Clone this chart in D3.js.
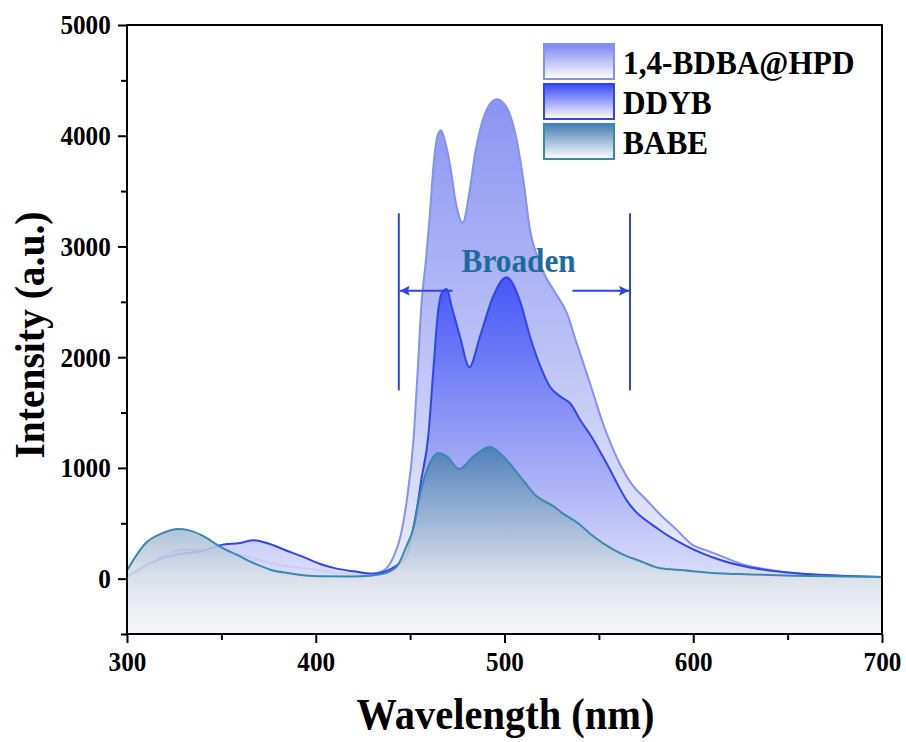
<!DOCTYPE html>
<html>
<head>
<meta charset="utf-8">
<script src="https://cdn.jsdelivr.net/npm/d3@7"></script>
<style>
  body { margin: 0; background: #fff; }
  text { font-family: "Liberation Serif", "Times New Roman", serif; font-weight: bold; }
</style>
</head>
<body>
<div id="chart"></div>
<script>
// Spectra (wavelength in nm, intensity in a.u.)
var wlHPD = [300, 310, 320, 330, 340, 350, 360, 370, 380, 390, 400, 410, 420, 430, 436, 441, 445, 448, 452, 454, 456, 458.5, 460.5, 462.5, 464.5, 466.4, 468.5, 471, 474.5, 477.8, 481.5, 484.5, 487, 492, 496, 501, 506.5, 510, 513.5, 518, 522, 527, 533, 538, 545, 552, 561, 568, 575, 583, 591, 600, 607, 614, 627, 640, 653, 670, 700];
var intHPD = [20, 110, 210, 262, 255, 240, 215, 170, 125, 100, 80, 55, 40, 45, 75, 190, 390, 680, 1300, 1880, 2480, 2900, 3300, 3750, 4000, 4050, 3950, 3750, 3370, 3215, 3500, 3850, 4050, 4280, 4330, 4260, 3960, 3600, 3150, 2880, 2720, 2580, 2400, 2140, 1780, 1410, 1040, 840, 715, 570, 445, 300, 255, 210, 125, 80, 51, 30, 15];

var wlDDYB = [300, 310, 320, 330, 340, 350, 360, 367, 374, 385, 392, 402, 410, 420, 430, 437, 442, 448, 451, 453.5, 456, 459.6, 462.3, 464.9, 466.7, 469.4, 472, 476.4, 481.4, 487, 494, 501, 508, 513.5, 519, 524, 530, 535, 540, 545, 554, 565, 582, 597, 614, 627, 653, 700];
var intDDYB = [15, 120, 190, 228, 250, 305, 322, 346, 322, 250, 205, 135, 95, 66, 45, 66, 110, 201, 400, 623, 900, 1284, 1886, 2428, 2578, 2615, 2458, 2187, 1910, 2187, 2548, 2723, 2518, 2187, 1916, 1735, 1640, 1580, 1435, 1310, 1044, 700, 442, 290, 171, 111, 51, 15];

var wlBABE = [300, 310, 319, 327, 333, 340, 349, 358, 367, 376, 385, 402, 420, 429, 436, 443, 448, 452, 455, 460.5, 465, 469.4, 476, 483.5, 492.3, 499.4, 508.2, 517, 526, 530, 540, 547, 557.7, 565, 570, 582, 595, 610, 630, 653, 700];
var intBABE = [75, 322, 412, 448, 436, 388, 292, 217, 141, 81, 51, 21, 20, 27, 45, 111, 292, 472, 743, 1044, 1134, 1104, 990, 1104, 1189, 1104, 923, 743, 653, 600, 487, 382, 262, 201, 171, 96, 75, 51, 38, 27, 15];

var seriesNames = ["1,4-BDBA@HPD", "DDYB", "BABE"];
var xTicks = [300, 400, 500, 600, 700];
var yTicks = [0, 1000, 2000, 3000, 4000, 5000];

var W = 906, H = 742;
var margin = { top: 25, right: 24, bottom: 108, left: 127 },
    width = W - margin.left - margin.right,
    height = H - margin.top - margin.bottom;

var svg = d3.select("#chart").append("svg")
    .attr("width", W).attr("height", H);

var x = d3.scaleLinear().domain([300, 700]).range([0, width]);
var y = d3.scaleLinear().domain([-500, 5000]).range([height, 0]);

var g = svg.append("g")
    .attr("transform", "translate(" + margin.left + "," + margin.top + ")");

var series = [
  { name: seriesNames[0], wl: wlHPD, val: intHPD, line: "#8491f1",
    stops: [[0, "#7a86f0"], [0.55, "#bcc2f6"], [1, "#f7f7fa"]] },
  { name: seriesNames[1], wl: wlDDYB, val: intDDYB, line: "#3045ee",
    stops: [[0, "#3749f6"], [0.55, "#a0a8f6"], [1, "#f7f7fa"]] },
  { name: seriesNames[2], wl: wlBABE, val: intBABE, line: "#3a88ae",
    stops: [[0, "#467cb2"], [0.7, "#dce1ea"], [1, "#f8f8f9"]] }
];

var defs = svg.append("defs");
defs.append("clipPath").attr("id", "plotClip")
  .append("rect").attr("width", width).attr("height", height);

series.forEach(function (s, i) {
  s.pts = s.wl.map(function (w, j) { return [w, s.val[j]]; });
  var grad = defs.append("linearGradient")
      .attr("id", "grad" + i)
      .attr("gradientUnits", "userSpaceOnUse")
      .attr("x1", 0).attr("x2", 0)
      .attr("y1", y(d3.max(s.val))).attr("y2", height);
  s.stops.forEach(function (st) {
    grad.append("stop").attr("offset", st[0]).attr("stop-color", st[1]);
  });
  // legend swatch gradient
  var lg = defs.append("linearGradient")
      .attr("id", "lgrad" + i)
      .attr("x1", 0).attr("x2", 0).attr("y1", 0).attr("y2", 1);
  lg.append("stop").attr("offset", 0).attr("stop-color", s.stops[0][1]);
  lg.append("stop").attr("offset", 1).attr("stop-color", "#ffffff");
});

var area = d3.area()
    .x(function (d) { return x(d[0]); })
    .y0(height)
    .y1(function (d) { return y(d[1]); })
    .curve(d3.curveMonotoneX);

var line = d3.line()
    .x(function (d) { return x(d[0]); })
    .y(function (d) { return y(d[1]); })
    .curve(d3.curveMonotoneX);

var plot = g.append("g").attr("clip-path", "url(#plotClip)");

series.forEach(function (s, i) {
  plot.append("path")
    .datum(s.pts)
    .attr("d", area)
    .attr("fill", "url(#grad" + i + ")")
    .attr("fill-opacity", 0.88);
  plot.append("path")
    .datum(s.pts)
    .attr("d", line)
    .attr("fill", "none")
    .attr("stroke", s.line)
    .attr("stroke-width", 2);
});

// "Broaden" annotation
var annoColor = "#2b45f0";
var bLeft = 444, bRight = 566.5, bTop = 3300, bBottom = 1700, bArrow = 2600;
defs.append("marker")
    .attr("id", "arrowHead")
    .attr("viewBox", "0 0 10 10")
    .attr("refX", 10).attr("refY", 5)
    .attr("markerWidth", 7).attr("markerHeight", 5)
    .attr("markerUnits", "strokeWidth")
    .attr("orient", "auto")
  .append("path")
    .attr("d", "M0,0 L10,5 L0,10 L2,5 Z")
    .attr("fill", annoColor);

[bLeft, bRight].forEach(function (w) {
  g.append("line")
    .attr("x1", x(w)).attr("x2", x(w))
    .attr("y1", y(bTop)).attr("y2", y(bBottom))
    .attr("stroke", annoColor).attr("stroke-width", 2);
});
g.append("line")
  .attr("x1", x(472.5)).attr("x2", x(bLeft) + 1)
  .attr("y1", y(bArrow)).attr("y2", y(bArrow))
  .attr("stroke", annoColor).attr("stroke-width", 2)
  .attr("marker-end", "url(#arrowHead)");
g.append("line")
  .attr("x1", x(536)).attr("x2", x(bRight) - 1)
  .attr("y1", y(bArrow)).attr("y2", y(bArrow))
  .attr("stroke", annoColor).attr("stroke-width", 2)
  .attr("marker-end", "url(#arrowHead)");
g.append("text")
  .attr("transform", "translate(" + x(507.5) + "," + y(2770) + ") scale(0.92,1)")
  .attr("text-anchor", "middle")
  .attr("fill", "#1d6b9c")
  .style("font-size", "34px")
  .text("Broaden");

// Axes
var xAxis = d3.axisBottom(x).tickValues(xTicks).tickSize(9).tickPadding(8).tickFormat(d3.format("d"));
var xMinor = d3.axisBottom(x).tickValues([350, 450, 550, 650]).tickSize(6).tickFormat("");
var yAxis = d3.axisLeft(y).tickValues(yTicks).tickSize(9).tickPadding(9).tickFormat(d3.format("d"));
var yMinor = d3.axisLeft(y).tickValues([-500, 500, 1500, 2500, 3500, 4500]).tickSize(6).tickFormat("");

function styleAxis(sel) {
  sel.select(".domain").remove();
  sel.selectAll("line").attr("stroke", "#000").attr("stroke-width", 2);
  sel.selectAll("text").attr("fill", "#000").style("font-size", "28px")
    .style("font-family", "'Liberation Serif', serif").style("font-weight", "bold")
    .attr("transform", "scale(0.9,1)");
}
g.append("g").attr("transform", "translate(0," + height + ")").call(xAxis).call(styleAxis);
g.append("g").attr("transform", "translate(0," + height + ")").call(xMinor).call(styleAxis);
g.append("g").call(yAxis).call(styleAxis);
g.append("g").call(yMinor).call(styleAxis);

// Frame
g.append("rect")
  .attr("width", width).attr("height", height)
  .attr("fill", "none").attr("stroke", "#000").attr("stroke-width", 2);

// Axis titles
svg.append("text")
  .attr("transform", "translate(" + (margin.left + width / 2 + 1) + ",729) scale(0.92,1)")
  .attr("text-anchor", "middle")
  .style("font-size", "44px")
  .text("Wavelength (nm)");
svg.append("text")
  .attr("transform", "translate(44," + (margin.top + y(2200)) + ") rotate(-90) scale(0.92,1)")
  .attr("text-anchor", "middle")
  .style("font-size", "43px")
  .text("Intensity (a.u.)");

// Legend
var legend = svg.append("g").attr("transform", "translate(544,44)");
series.forEach(function (s, i) {
  var row = legend.append("g").attr("transform", "translate(0," + (i * 40) + ")");
  row.append("rect")
    .attr("width", 70).attr("height", 35)
    .attr("fill", "url(#lgrad" + i + ")")
    .attr("stroke", s.line).attr("stroke-width", 2);
  row.append("text")
    .attr("transform", "translate(79,30) scale(0.92,1)")
    .style("font-size", "34px")
    .text(s.name);
});
</script>
</body>
</html>
